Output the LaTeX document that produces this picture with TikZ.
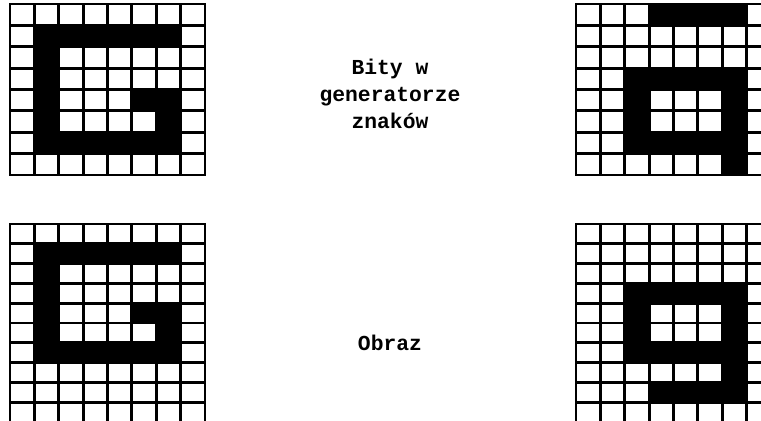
\documentclass[tikz,border=0pt]{standalone}
\usepackage{fontspec}
\setmonofont{Liberation Mono}
\usepackage{tikz}

% #1 = number of rows, #2 = rows of bits (1 = black cell)
\newcommand{\bitgrid}[2]{%
  \foreach \bits [count=\r from 0] in {#2} {
    \foreach \b [count=\c from 0] in \bits {
      \ifnum\b=1 \fill[bitset] (\c,\r) rectangle ++(1,1); \fi
    }
  }
  \foreach \c in {0,...,8} \draw[gridline] (\c,0) -- (\c,#1);
  \foreach \r in {0,...,#1} \draw[gridline] (0,\r) -- (8,\r);
}

\begin{document}
\begin{tikzpicture}[x=0.75pt, y=-0.75pt,
    bitset/.style={fill=black},
    gridline/.style={draw=black, line width=2.2pt, line cap=rect},
    topgrid/.style={x=18.28pt, y=-16.03pt},
    botgrid/.style={x=18.28pt, y=-14.85pt},
    label/.style={font=\ttfamily\bfseries\fontsize{16}{20}\selectfont, align=center}
  ]
  \useasboundingbox (0,0) rectangle (761,421);
  \clip (0,0) rectangle (761,421);

  % Character generator bits: G
  \begin{scope}[shift={(10,4)}, topgrid]
    \bitgrid{8}{{0,0,0,0,0,0,0,0},{0,1,1,1,1,1,1,0},{0,1,0,0,0,0,0,0},
      {0,1,0,0,0,0,0,0},{0,1,0,0,0,1,1,0},{0,1,0,0,0,0,1,0},
      {0,1,1,1,1,1,1,0},{0,0,0,0,0,0,0,0}}
  \end{scope}

  % Character generator bits: g
  \begin{scope}[shift={(576,4)}, topgrid]
    \bitgrid{8}{{0,0,0,1,1,1,1,0},{0,0,0,0,0,0,0,0},{0,0,0,0,0,0,0,0},
      {0,0,1,1,1,1,1,0},{0,0,1,0,0,0,1,0},{0,0,1,0,0,0,1,0},
      {0,0,1,1,1,1,1,0},{0,0,0,0,0,0,1,0}}
  \end{scope}

  % Image: G
  \begin{scope}[shift={(10,224)}, botgrid]
    \bitgrid{10}{{0,0,0,0,0,0,0,0},{0,1,1,1,1,1,1,0},{0,1,0,0,0,0,0,0},
      {0,1,0,0,0,0,0,0},{0,1,0,0,0,1,1,0},{0,1,0,0,0,0,1,0},
      {0,1,1,1,1,1,1,0},{0,0,0,0,0,0,0,0},{0,0,0,0,0,0,0,0},
      {0,0,0,0,0,0,0,0}}
  \end{scope}

  % Image: g
  \begin{scope}[shift={(576,224)}, botgrid]
    \bitgrid{10}{{0,0,0,0,0,0,0,0},{0,0,0,0,0,0,0,0},{0,0,0,0,0,0,0,0},
      {0,0,1,1,1,1,1,0},{0,0,1,0,0,0,1,0},{0,0,1,0,0,0,1,0},
      {0,0,1,1,1,1,1,0},{0,0,0,0,0,0,1,0},{0,0,0,1,1,1,1,0},
      {0,0,0,0,0,0,0,0}}
  \end{scope}

  % Labels
  \node[label] (bits) at (390,94) {Bity w\\generatorze\\znaków};
  \node[label] (image) at (390,343) {Obraz};
\end{tikzpicture}
\end{document}
